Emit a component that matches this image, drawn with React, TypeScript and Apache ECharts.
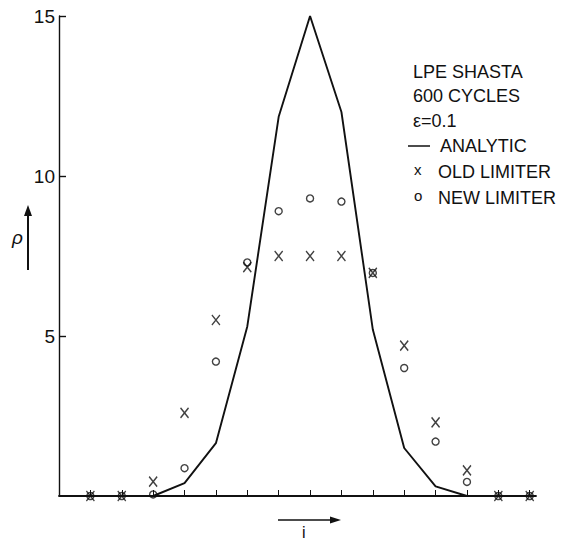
import React, { useEffect, useRef } from "react";
import * as echarts from "echarts";

const indices = [1, 2, 3, 4, 5, 6, 7, 8, 9, 10, 11, 12, 13, 14, 15];
const analytic = [0, 0, 0, 0.4, 1.65, 5.3, 11.85, 15, 12.0, 5.2, 1.5, 0.3, 0, 0, 0];
const oldLimiter = [0, 0, 0.45, 2.6, 5.5, 7.15, 7.5, 7.5, 7.5, 6.97, 4.7, 2.3, 0.8, 0, 0];
const newLimiter = [0, 0, 0.05, 0.87, 4.2, 7.3, 8.9, 9.3, 9.2, 6.97, 4.0, 1.7, 0.44, 0, 0];
const yTicks = [5, 10, 15];
const legendLines = ["LPE SHASTA", "600 CYCLES", "\u03b5=0.1"];

const FONT = "'Liberation Sans', Arial, Helvetica, sans-serif";

export default function App() {
  const ref = useRef<HTMLDivElement>(null);
  useEffect(() => {
    if (!ref.current) return;
    const chart = echarts.init(ref.current, undefined, { renderer: "svg" });
    const pair = (arr: number[]) => indices.map((x, k) => [x, arr[k]]);
    const textStyle = { fill: "#111", font: `18px ${FONT}` };
    chart.setOption({
      animation: false,
      backgroundColor: "#ffffff",
      grid: { left: 59, right: 28, top: 16, bottom: 43, containLabel: false },
      xAxis: {
        type: "value",
        min: 0,
        max: 15.2,
        interval: 1,
        axisLine: { show: true, lineStyle: { color: "#111", width: 1.8 } },
        axisTick: {
          show: true,
          inside: true,
          length: 6,
          customValues: indices,
          lineStyle: { color: "#111", width: 1 },
        },
        axisLabel: { show: false },
        splitLine: { show: false },
      },
      yAxis: {
        type: "value",
        min: 0,
        max: 15,
        interval: 5,
        axisLine: { show: true, lineStyle: { color: "#111", width: 1.4 } },
        axisTick: {
          show: true,
          inside: true,
          length: 7,
          customValues: yTicks,
          lineStyle: { color: "#111", width: 1.4 },
        },
        axisLabel: {
          show: true,
          margin: 4,
          customValues: yTicks,
          color: "#111",
          fontSize: 19,
          fontFamily: FONT,
        },
        splitLine: { show: false },
      },
      series: [
        {
          name: "ANALYTIC",
          type: "line",
          data: pair(analytic),
          symbol: "none",
          lineStyle: { color: "#111", width: 1.9 },
          z: 2,
        },
        {
          name: "OLD LIMITER",
          type: "scatter",
          data: pair(oldLimiter),
          symbol: "path://M0,0L10,11M10,0L0,11",
          symbolSize: [8, 10],
          itemStyle: { color: "none", borderColor: "#111", borderWidth: 1.5 },
          z: 3,
        },
        {
          name: "NEW LIMITER",
          type: "scatter",
          data: pair(newLimiter),
          symbol: "circle",
          symbolSize: 7,
          itemStyle: { color: "none", borderColor: "#111", borderWidth: 1.4 },
          z: 3,
        },
      ],
      graphic: [
        ...legendLines.map((t, k) => ({
          type: "text",
          left: 413,
          top: [63, 87, 112][k],
          style: { ...textStyle, text: t },
        })),
        { type: "line", shape: { x1: 408, y1: 146, x2: 430, y2: 146 }, style: { stroke: "#111", lineWidth: 1.5 } },
        { type: "text", left: 440, top: 137, style: { ...textStyle, text: "ANALYTIC" } },
        { type: "text", left: 414, top: 162, style: { fill: "#111", font: `15px ${FONT}`, text: "x" } },
        { type: "text", left: 438, top: 163, style: { ...textStyle, text: "OLD LIMITER" } },
        { type: "text", left: 414, top: 188, style: { fill: "#111", font: `15px ${FONT}`, text: "o" } },
        { type: "text", left: 438, top: 189, style: { ...textStyle, text: "NEW LIMITER" } },
        // y label and arrow
        { type: "text", left: 12, top: 228, style: { fill: "#111", font: `italic 19px ${FONT}`, text: "\u03c1" } },
        { type: "line", shape: { x1: 28, y1: 270, x2: 28, y2: 214 }, style: { stroke: "#111", lineWidth: 2 } },
        { type: "polygon", shape: { points: [[24, 216], [32, 216], [28, 205]] }, style: { fill: "#111" } },
        // x label and arrow
        { type: "line", shape: { x1: 278, y1: 520, x2: 332, y2: 520 }, style: { stroke: "#111", lineWidth: 1.6 } },
        { type: "polygon", shape: { points: [[330, 516.5], [330, 523.5], [341, 520]] }, style: { fill: "#111" } },
        { type: "text", left: 302, top: 524, style: { fill: "#111", font: `16px ${FONT}`, text: "i" } },
      ],
    });
    return () => chart.dispose();
  }, []);
  return <div ref={ref} style={{ position: "fixed", left: 0, top: 0, width: 564, height: 539 }} />;
}
